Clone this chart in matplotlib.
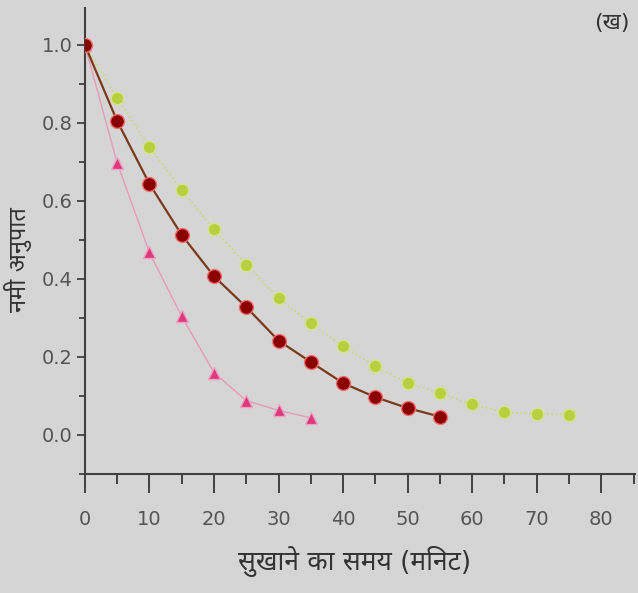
import matplotlib
matplotlib.use("Agg")
import matplotlib.pyplot as plt
from matplotlib import font_manager
from matplotlib.ft2font import FT2Font
from matplotlib.ticker import MultipleLocator

# ---- data ----
time_green = [0, 5, 10, 15, 20, 25, 30, 35, 40, 45, 50, 55, 60, 65, 70, 75]
mr_green = [1.0, 0.864, 0.738, 0.628, 0.527, 0.437, 0.351, 0.287, 0.227, 0.177, 0.133, 0.108, 0.079, 0.058, 0.054, 0.052]

time_red = [0, 5, 10, 15, 20, 25, 30, 35, 40, 45, 50, 55]
mr_red = [1.0, 0.805, 0.644, 0.513, 0.407, 0.328, 0.242, 0.187, 0.133, 0.097, 0.069, 0.047]

time_pink = [0, 5, 10, 15, 20, 25, 30, 35]
mr_pink = [1.0, 0.698, 0.468, 0.304, 0.160, 0.088, 0.063, 0.044]

xticks = [0, 10, 20, 30, 40, 50, 60, 70, 80]
yticks = [0.0, 0.2, 0.4, 0.6, 0.8, 1.0]
xlabel = "सुखाने का समय (मिनट)"
ylabel = "नमी अनुपात"
panel = "(ख)"

# ---- font with Devanagari (prefer a sans face) ----
cands = []
for f in font_manager.fontManager.ttflist:
    try:
        ft = FT2Font(f.fname)
        if ft.get_char_index(ord("न")) != 0:
            cands.append(f.name)
    except Exception:
        pass
def score(n):
    s = 0
    ln = n.lower()
    if "mono" in ln:
        s += 10
    if "serif" in ln and "sans" not in ln:
        s += 5
    if "sans" in ln:
        s -= 3
    if "noto" in ln:
        s -= 2
    return s
cands = sorted(set(cands), key=score)
fams = ["DejaVu Sans"] + cands[:1]
plt.rcParams["font.family"] = fams

bg = "#d5d5d5"
fig = plt.figure(figsize=(6.38, 5.93), dpi=100, facecolor=bg)
ax = fig.add_axes([0.133, 0.2007, 0.862, 0.786], facecolor=bg)

ax.plot(time_green, mr_green, linestyle=":", color="#c8dc70", linewidth=1.2,
        marker="o", markersize=9, markerfacecolor="#b8d040", markeredgecolor="#d4e48c",
        markeredgewidth=1.0, zorder=2)
ax.plot(time_pink, mr_pink, linestyle="-", color="#e89ab8", linewidth=1.0,
        marker="^", markersize=9, markerfacecolor="#dc3a7c", markeredgecolor="#f0a0c0",
        markeredgewidth=1.0, zorder=3)
ax.plot(time_red, mr_red, linestyle="-", color="#7a3a1a", linewidth=1.6,
        marker="o", markersize=10, markerfacecolor="#8b0000", markeredgecolor="#f07070",
        markeredgewidth=1.0, zorder=4)

ax.set_xlim(0, 85.2)
ax.set_ylim(-0.1, 1.095)
ax.set_xticks(xticks)
ax.set_yticks(yticks)
ax.set_yticklabels([f"{v:.1f}" for v in yticks])
ax.xaxis.set_minor_locator(MultipleLocator(5))
ax.yaxis.set_minor_locator(MultipleLocator(0.1))

for s in ["top", "right"]:
    ax.spines[s].set_visible(False)
for s in ["left", "bottom"]:
    ax.spines[s].set_color("#404040")
    ax.spines[s].set_linewidth(1.5)

ax.tick_params(axis="x", which="major", direction="out", length=14, width=1.4,
               color="#404040", labelcolor="#555555", labelsize=14, pad=12)
ax.tick_params(axis="x", which="minor", direction="out", length=7, width=1.4,
               color="#404040")
ax.tick_params(axis="y", which="major", direction="out", length=6, width=1.3,
               color="#404040", labelcolor="#555555", labelsize=14, pad=3)
ax.tick_params(axis="y", which="minor", direction="out", length=4, width=1.3,
               color="#404040")

ax.set_xlabel(xlabel, fontsize=19, color="#333333")
ax.xaxis.set_label_coords(0.49, -0.155)
ax.set_ylabel(ylabel, fontsize=17, color="#333333")
ax.yaxis.set_label_coords(-0.097, 0.459)
fig.text(0.987, 0.962, panel, fontsize=16, color="#333333", ha="right", va="center")

fig.savefig("out.png", dpi=100, facecolor=bg)
